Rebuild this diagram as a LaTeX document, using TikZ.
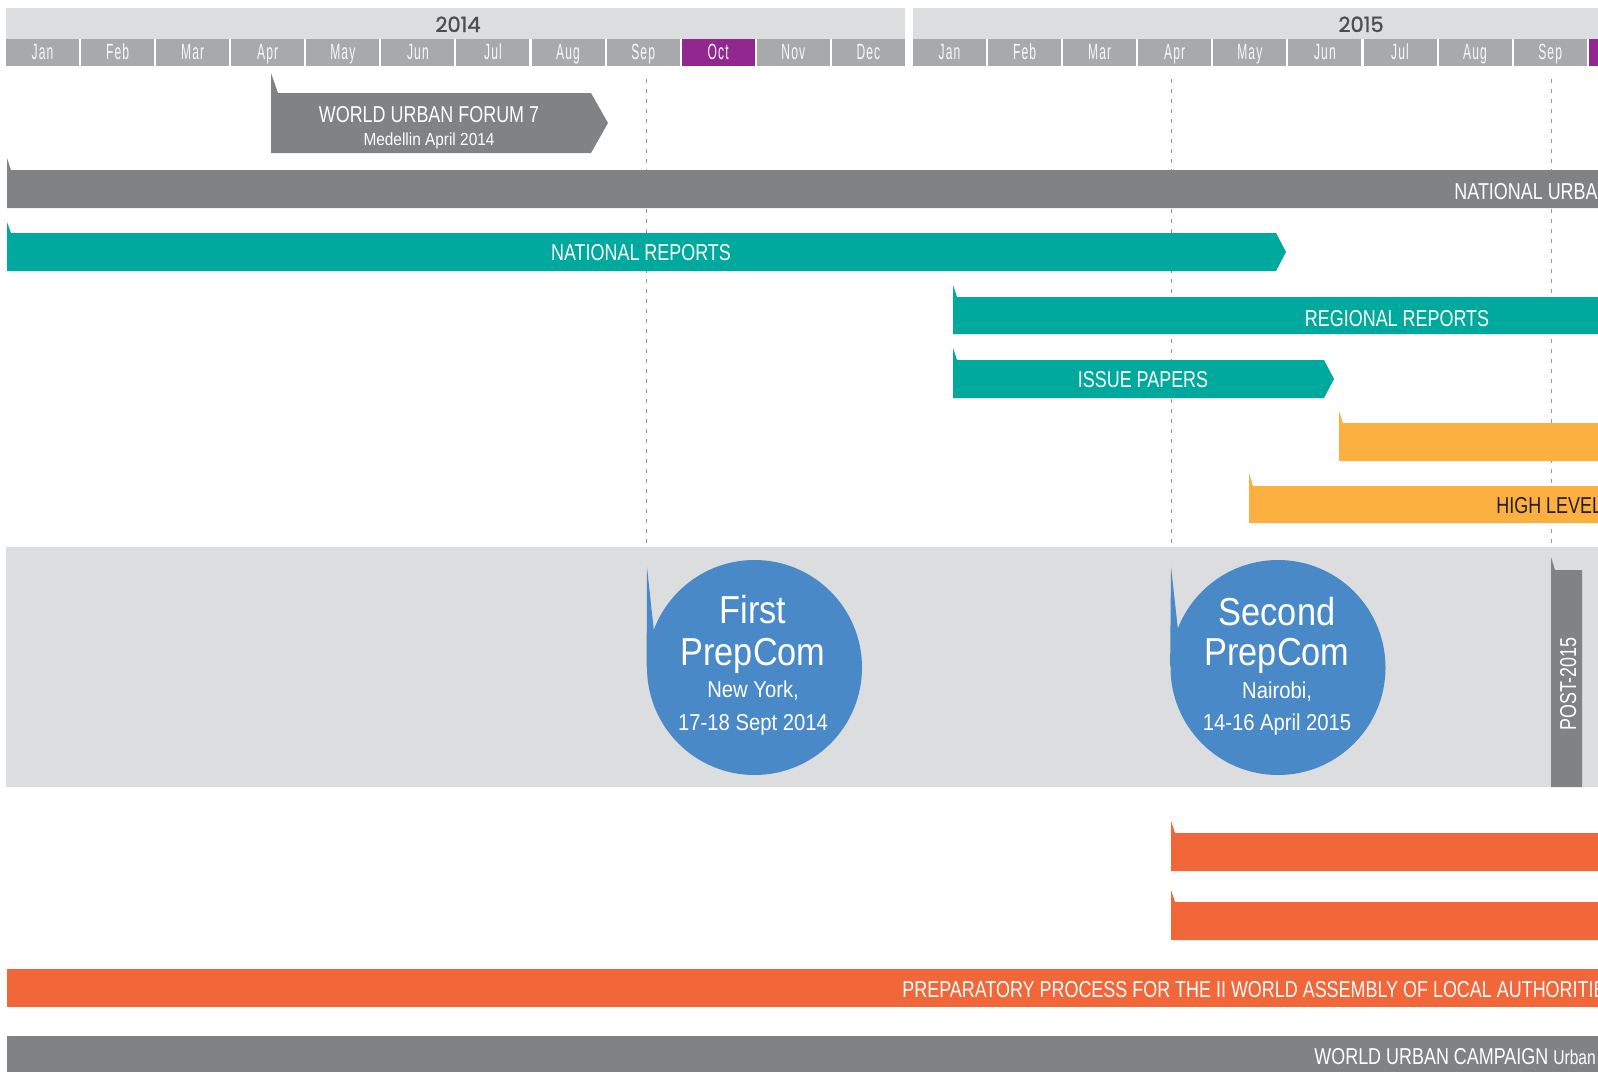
\documentclass[tikz,border=0pt]{standalone}
\usepackage{fontspec}
\setmainfont{Liberation Sans}[FakeStretch=0.78]
\newfontfamily\widefont{Liberation Sans}[FakeStretch=0.88]
\newfontfamily\monthfont{Liberation Sans}[FakeStretch=0.55,LetterSpace=5]
\newfontfamily\yearfont{Poppins}[FakeBold=1.2]
\definecolor{bandgray}{HTML}{DCDDDE}
\definecolor{mgray}{HTML}{A7A9AC}
\definecolor{octpurple}{HTML}{92278F}
\definecolor{bargray}{HTML}{808285}
\definecolor{unteal}{HTML}{00A99D}
\definecolor{unyellow}{HTML}{FBB040}
\definecolor{unorange}{HTML}{F26739}
\definecolor{unblue}{HTML}{4A89C7}
\definecolor{yeartext}{HTML}{4D4D4F}
\definecolor{darktext}{HTML}{231F20}

\begin{document}
\begin{tikzpicture}[x = 0.5pt, y = -0.5pt,
    every node/.style = {inner sep = 0pt, text = white},
    yearlabel/.style = {anchor = base, text = yeartext, font = \yearfont\fontsize{10.5}{12}\selectfont},
    month/.style = {anchor = base, text = white!92!mgray, font = \monthfont\fontsize{11}{12}\selectfont},
    barlabel/.style = {anchor = base, font = \fontsize{11.5}{13}\selectfont},
    sublabel/.style = {anchor = base, font = \widefont\fontsize{8.75}{10}\selectfont},
    bigline/.style = {anchor = base, font = \widefont\fontsize{19.5}{20}\selectfont},
    smallline/.style = {anchor = base, font = \widefont\fontsize{11.5}{13}\selectfont},
    bubble/.style = {shape = circle, fill = unblue, minimum size = 107.5pt},
    guide/.style = {draw = mgray!90!black, line width = 0.5pt, dash pattern = on 2pt off 3pt}]
    \useasboundingbox (0,0) rectangle (1598,1071);
    \clip (0,0) rectangle (1598,1071);

    % years and months
    \fill[bandgray] (6,8) rectangle (905,39);
    \fill[bandgray] (913,8) rectangle (1610,39);
    \node[yearlabel] (y2014) at (458,32) {2014};
    \node[yearlabel] (y2015) at (1361,32) {2015};
    \foreach \m/\c [count = \i from 0] in {Jan/mgray, Feb/mgray, Mar/mgray, Apr/mgray, May/mgray, Jun/mgray, Jul/mgray, Aug/mgray, Sep/mgray, Oct/octpurple, Nov/mgray, Dec/mgray} {
	\fill[\c] ({6+75.08*\i},39) rectangle ({79+75.08*\i},66);
	\node[month] (a\i) at ({42.5+75.08*\i},59) {\m};
    }
    \foreach \m [count = \i from 0] in {Jan, Feb, Mar, Apr, May, Jun, Jul, Aug, Sep} {
	\fill[mgray] ({913+75.08*\i},39) rectangle ({986+75.08*\i},66);
	\node[month] (b\i) at ({949.5+75.08*\i},59) {\m};
    }
    \fill[octpurple] (1589,39) rectangle (1610,66);

    \draw[guide] (646,79) -- (646,547);
    \draw[guide] (1171,79) -- (1171,547);
    \draw[guide] (1551,79) -- (1551,547);

    % bars
    \fill[bargray] (271,73) -- (278,93) -- (591,93) -- (608,123) -- (591,153) -- (271,153) -- cycle;
    \node[barlabel] (wuf) at (429,122) {WORLD URBAN FORUM 7};
    \node[sublabel] (wufsub) at (429,145) {Medellin April 2014};
    \fill[bargray] (7,158) -- (11,170) -- (1610,170) -- (1610,208) -- (7,208) -- cycle;
    \node[barlabel, anchor = base west] (nup) at (1454,199) {NATIONAL URBA};
    \fill[unteal] (7,222) -- (11,233) -- (1276,233) -- (1286,252) -- (1276,271) -- (7,271) -- cycle;
    \node[barlabel] (nat) at (641,260) {NATIONAL REPORTS};
    \fill[unteal] (953,285) -- (957,297) -- (1610,297) -- (1610,334) -- (953,334) -- cycle;
    \node[barlabel] (reg) at (1397,326) {REGIONAL REPORTS};
    \fill[unteal] (953,348) -- (957,360) -- (1324,360) -- (1334,379) -- (1324,398) -- (953,398) -- cycle;
    \node[barlabel] (iss) at (1143,387) {ISSUE PAPERS};
    \fill[unyellow] (1339,411) -- (1343,423) -- (1610,423) -- (1610,461) -- (1339,461) -- cycle;
    \fill[unyellow] (1249,473) -- (1253,486) -- (1610,486) -- (1610,523) -- (1249,523) -- cycle;
    \node[barlabel, anchor = base west, text = darktext] (hl) at (1496,513) {HIGH LEVEL};

    % prepcoms
    \fill[bandgray] (6,547) rectangle (1610,787);
    \node[bubble] (first) at (754.5,667.5) {};
    \fill[unblue] (647,567) -- (654,632) -- (first.west) -- cycle;
    \node[bigline] (f1) at (753,623) {First};
    \node[bigline] (f2) at (753,665) {PrepCom};
    \node[smallline] (f3) at (753,697) {New York,};
    \node[smallline] (f4) at (753,730) {17-18 Sept 2014};
    \node[bubble] (second) at (1278,667.5) {};
    \fill[unblue] (1171,567) -- (1178,630) -- (second.west) -- cycle;
    \node[bigline] (s1) at (1277,625) {Second};
    \node[bigline] (s2) at (1277,665) {PrepCom};
    \node[smallline] (s3) at (1277,698) {Nairobi,};
    \node[smallline] (s4) at (1277,730) {14-16 April 2015};
    \fill[bargray] (1551,557) -- (1555,570) -- (1582,570) -- (1582,787) -- (1551,787) -- cycle;
    \node[barlabel, rotate = 90] (post) at (1576,684) {POST-2015};

    % lower bars
    \fill[unorange] (1171,821) -- (1175,833) -- (1610,833) -- (1610,871) -- (1171,871) -- cycle;
    \fill[unorange] (1171,890) -- (1175,902) -- (1610,902) -- (1610,940) -- (1171,940) -- cycle;
    \fill[unorange] (7,969) rectangle (1610,1007);
    \node[barlabel, anchor = base west] (prep) at (902,997) {PREPARATORY PROCESS FOR THE II WORLD ASSEMBLY OF LOCAL AUTHORITIE};
    \fill[bargray] (7,1036) rectangle (1610,1080);
    \node[barlabel, anchor = base west] (wuc) at (1314,1064) {WORLD URBAN CAMPAIGN {\fontsize{10}{11}\selectfont Urban}};
\end{tikzpicture}
\end{document}
